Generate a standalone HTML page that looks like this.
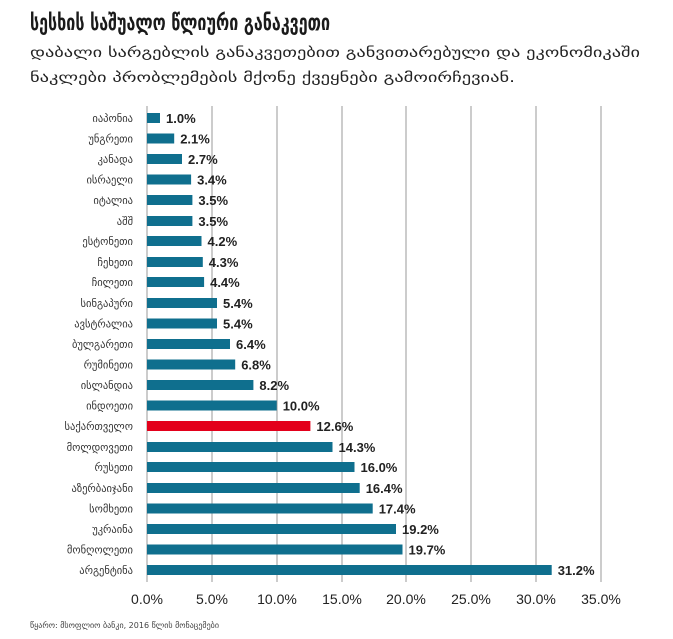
<!DOCTYPE html>
<html><head><meta charset="utf-8"><style>body{margin:0;background:#fff}svg{display:block}</style></head>
<body>
<svg width="673" height="639" xmlns="http://www.w3.org/2000/svg" font-family="'DejaVu Sans','Liberation Sans',sans-serif">
<text x="30" y="30" font-size="22" font-weight="bold" fill="#1a1a1a" textLength="300" lengthAdjust="spacingAndGlyphs">სესხის საშუალო წლიური განაკვეთი</text>
<text x="30" y="57" font-size="14" fill="#222" textLength="610" lengthAdjust="spacingAndGlyphs">დაბალი სარგებლის განაკვეთებით განვითარებული და ეკონომიკაში</text>
<text x="30" y="82" font-size="14" fill="#222" textLength="485" lengthAdjust="spacingAndGlyphs">ნაკლები პრობლემების მქონე ქვეყნები გამოირჩევიან.</text>
<g stroke="#999" stroke-width="1">
<line x1="147" y1="106" x2="147" y2="582"/><line x1="212" y1="106" x2="212" y2="582"/><line x1="277" y1="106" x2="277" y2="582"/><line x1="342" y1="106" x2="342" y2="582"/><line x1="406" y1="106" x2="406" y2="582"/><line x1="471" y1="106" x2="471" y2="582"/><line x1="536" y1="106" x2="536" y2="582"/><line x1="601" y1="106" x2="601" y2="582"/>
</g>
<g font-family="'Liberation Sans',sans-serif" font-size="14" fill="#222" text-anchor="middle">
<text x="147" y="604">0.0%</text><text x="212" y="604">5.0%</text><text x="277" y="604">10.0%</text><text x="342" y="604">15.0%</text><text x="406" y="604">20.0%</text><text x="471" y="604">25.0%</text><text x="536" y="604">30.0%</text><text x="601" y="604">35.0%</text>
</g>
<text x="30" y="628" font-size="8" fill="#444">წყარო: მსოფლიო ბანკი, 2016 წლის მონაცემები</text>
<g fill="#0f6f8e">
<rect x="147" y="113" width="13" height="10"/>
<rect x="147" y="133.5" width="27.2" height="10"/>
<rect x="147" y="154" width="35" height="10"/>
<rect x="147" y="174.5" width="44.1" height="10"/>
<rect x="147" y="195" width="45.4" height="10"/>
<rect x="147" y="216" width="45.4" height="10"/>
<rect x="147" y="236" width="54.5" height="10"/>
<rect x="147" y="257" width="55.8" height="10"/>
<rect x="147" y="277" width="57.1" height="10"/>
<rect x="147" y="298" width="70" height="10"/>
<rect x="147" y="318.5" width="70" height="10"/>
<rect x="147" y="339" width="83" height="10"/>
<rect x="147" y="359.5" width="88.2" height="10"/>
<rect x="147" y="380" width="106.4" height="10"/>
<rect x="147" y="400.5" width="129.7" height="10"/>
<rect x="147" y="421" width="163.4" height="10" fill="#e3001b"/>
<rect x="147" y="442" width="185.5" height="10"/>
<rect x="147" y="462" width="207.5" height="10"/>
<rect x="147" y="483" width="212.7" height="10"/>
<rect x="147" y="503.5" width="225.7" height="10"/>
<rect x="147" y="524" width="249" height="10"/>
<rect x="147" y="544.5" width="255.5" height="10"/>
<rect x="147" y="565" width="404.7" height="10"/>
</g>
<g font-size="10.5" fill="#333" text-anchor="end">
<text x="133" y="122">იაპონია</text>
<text x="133" y="142.5">უნგრეთი</text>
<text x="133" y="163">კანადა</text>
<text x="133" y="183.5">ისრაელი</text>
<text x="133" y="204">იტალია</text>
<text x="133" y="225">აშშ</text>
<text x="133" y="245">ესტონეთი</text>
<text x="133" y="266">ჩეხეთი</text>
<text x="133" y="286">ჩილეთი</text>
<text x="133" y="307">სინგაპური</text>
<text x="133" y="327.5">ავსტრალია</text>
<text x="133" y="348">ბულგარეთი</text>
<text x="133" y="368.5">რუმინეთი</text>
<text x="133" y="389">ისლანდია</text>
<text x="133" y="409.5">ინდოეთი</text>
<text x="133" y="430">საქართველო</text>
<text x="133" y="451">მოლდოვეთი</text>
<text x="133" y="471">რუსეთი</text>
<text x="133" y="492">აზერბაიჯანი</text>
<text x="133" y="512.5">სომხეთი</text>
<text x="133" y="533">უკრაინა</text>
<text x="133" y="553.5">მონღოლეთი</text>
<text x="133" y="574">არგენტინა</text>
</g>
<g font-family="'Liberation Sans',sans-serif" font-size="13" font-weight="bold" fill="#222">
<text x="166" y="123">1.0%</text>
<text x="180.2" y="143.5">2.1%</text>
<text x="188" y="164">2.7%</text>
<text x="197.1" y="184.5">3.4%</text>
<text x="198.4" y="205">3.5%</text>
<text x="198.4" y="226">3.5%</text>
<text x="207.5" y="246">4.2%</text>
<text x="208.8" y="267">4.3%</text>
<text x="210.1" y="287">4.4%</text>
<text x="223" y="308">5.4%</text>
<text x="223" y="328.5">5.4%</text>
<text x="236" y="349">6.4%</text>
<text x="241.2" y="369.5">6.8%</text>
<text x="259.4" y="390">8.2%</text>
<text x="282.7" y="410.5">10.0%</text>
<text x="316.4" y="431">12.6%</text>
<text x="338.5" y="452">14.3%</text>
<text x="360.5" y="472">16.0%</text>
<text x="365.7" y="493">16.4%</text>
<text x="378.7" y="513.5">17.4%</text>
<text x="402" y="534">19.2%</text>
<text x="408.5" y="554.5">19.7%</text>
<text x="557.7" y="575">31.2%</text>
</g>
</svg>
</body></html>
